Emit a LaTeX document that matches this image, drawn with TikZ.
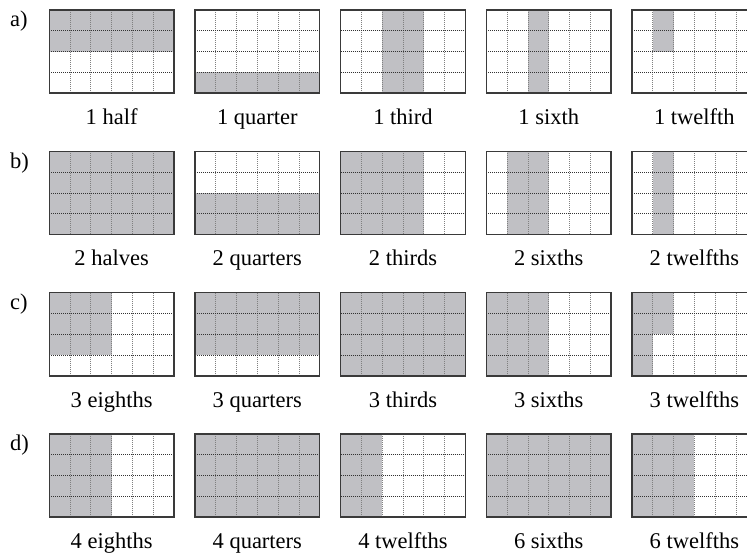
\documentclass[tikz,border=0pt]{standalone}
\usepackage{fontspec}
\setmainfont{Liberation Serif}
\usetikzlibrary{positioning}

\definecolor{shadegray}{RGB}{192,192,196}
\definecolor{rimgray}{RGB}{58,58,58}

\tikzset{
  cellshade/.style={fill=shadegray},
  gridrim/.style={draw=rimgray, line width=1.4pt},
  gridhline/.style={black!80, line width=0.7pt, dash pattern=on 0.8pt off 1.2pt},
  gridvline/.style={black!50, line width=0.7pt, dash pattern=on 0.8pt off 1.2pt},
  caption/.style={font=\fontsize{22.5}{27}\selectfont, anchor=base, inner sep=0pt},
  rowtag/.style={font=\fontsize{22.5}{27}\selectfont, anchor=base west, inner sep=0pt}
}

% one 6x4 grid: name, left, top, caption, shaded cells
\newcommand{\fracgrid}[5]{%
  \begin{scope}[shift={(#2,#3)}, x=20.8pt, y=-20.8pt]
    #5
    \foreach \gx in {1,...,5} \draw[gridvline] (\gx,0) -- (\gx,4);
    \foreach \gy in {1,2,3} \draw[gridhline] (0,\gy) -- (6,\gy);
    \draw[gridrim] (0,0) rectangle (6,4);
    \node[caption] (#1) at (3,5.5) {#4};
  \end{scope}}

\begin{document}
\begin{tikzpicture}[x=1pt, y=-1pt]

    \useasboundingbox (0,0) rectangle (747,553);
    \clip (0,0) rectangle (747,553);

    % --- Row tags ---
    \node[rowtag] (tagA) at (10,27) {a)};
    \node[rowtag] (tagB) at (10,168.3) {b)};
    \node[rowtag] (tagC) at (10,309.6) {c)};
    \node[rowtag] (tagD) at (10,450.9) {d)};

    % --- Row a ---
    \fracgrid{capA1}{49.2}{10}{1 half}{\fill[cellshade] (0,0) rectangle (6,2);}
    \fracgrid{capA2}{194.9}{10}{1 quarter}{\fill[cellshade] (0,3) rectangle (6,4);}
    \fracgrid{capA3}{340.6}{10}{1 third}{\fill[cellshade] (2,0) rectangle (4,4);}
    \fracgrid{capA4}{486.3}{10}{1 sixth}{\fill[cellshade] (2,0) rectangle (3,4);}
    \fracgrid{capA5}{632}{10}{1 twelfth}{\fill[cellshade] (1,0) rectangle (2,2);}

    % --- Row b ---
    \fracgrid{capB1}{49.2}{151.3}{2 halves}{\fill[cellshade] (0,0) rectangle (6,4);}
    \fracgrid{capB2}{194.9}{151.3}{2 quarters}{\fill[cellshade] (0,2) rectangle (6,4);}
    \fracgrid{capB3}{340.6}{151.3}{2 thirds}{\fill[cellshade] (0,0) rectangle (4,4);}
    \fracgrid{capB4}{486.3}{151.3}{2 sixths}{\fill[cellshade] (1,0) rectangle (3,4);}
    \fracgrid{capB5}{632}{151.3}{2 twelfths}{\fill[cellshade] (1,0) rectangle (2,4);}

    % --- Row c ---
    \fracgrid{capC1}{49.2}{292.6}{3 eighths}{\fill[cellshade] (0,0) rectangle (3,3);}
    \fracgrid{capC2}{194.9}{292.6}{3 quarters}{\fill[cellshade] (0,0) rectangle (6,3);}
    \fracgrid{capC3}{340.6}{292.6}{3 thirds}{\fill[cellshade] (0,0) rectangle (6,4);}
    \fracgrid{capC4}{486.3}{292.6}{3 sixths}{\fill[cellshade] (0,0) rectangle (3,4);}
    \fracgrid{capC5}{632}{292.6}{3 twelfths}{\fill[cellshade] (0,0) -- (2,0) -- (2,2) -- (1,2) -- (1,4) -- (0,4) -- cycle;}

    % --- Row d ---
    \fracgrid{capD1}{49.2}{433.9}{4 eighths}{\fill[cellshade] (0,0) rectangle (3,4);}
    \fracgrid{capD2}{194.9}{433.9}{4 quarters}{\fill[cellshade] (0,0) rectangle (6,4);}
    \fracgrid{capD3}{340.6}{433.9}{4 twelfths}{\fill[cellshade] (0,0) rectangle (2,4);}
    \fracgrid{capD4}{486.3}{433.9}{6 sixths}{\fill[cellshade] (0,0) rectangle (6,4);}
    \fracgrid{capD5}{632}{433.9}{6 twelfths}{\fill[cellshade] (0,0) rectangle (3,4);}

\end{tikzpicture}
\end{document}
